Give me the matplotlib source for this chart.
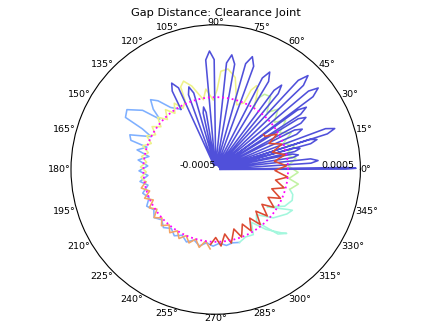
import numpy as np
import matplotlib
matplotlib.use("Agg")
import matplotlib.pyplot as plt

# gap distance, theta in degrees, gap in 1e-4 m
# blue: early impacts (petals from the centre)
blue_theta = [0.5, 0.2, 0.5, 0.9,
              3.5, 3.8, 5.0, 6.4,
              8.5, 8.8, 10.0, 11.4,
              12.5, 12.8, 14.0, 15.4,
              14.5, 15.2, 16.5, 17.8,
              17.0, 17.7, 19.0, 20.4,
              22.5, 23.5, 25.0, 26.6,
              27.5, 28.5, 30.0, 31.6,
              32.0, 33.0, 34.5, 36.0,
              36.0, 36.8, 38.5, 40.2,
              43.0, 43.8, 45.5, 47.2,
              49.5, 50.5, 52.0, 53.6,
              58.0, 59.0, 61.0, 63.0,
              69.0, 69.8, 72.0, 74.2,
              79.0, 79.8, 82.0, 84.2,
              90.0, 90.8, 93.0, 95.2,
              98.0, 99.5, 101.0, 102.5,
              105.0, 106.0, 108.0, 110.0,
              113.0, 114.5, 117.0, 119.0, 120.0]
blue_gap = [-4.7, 4.0, 4.7, 4.0,
            -4.7, 1.6, 2.1, 1.6,
            -4.7, 0.4, 0.8, 0.4,
            -4.7, 0.6, 1.0, 0.6,
            -4.7, 1.8, 2.3, 1.8,
            -4.7, 3.1, 3.7, 3.1,
            -4.7, 1.1, 1.6, 1.1,
            -4.7, 1.7, 2.2, 1.7,
            -4.7, 2.0, 2.6, 2.0,
            -4.7, 3.4, 4.05, 3.4,
            -4.7, 3.4, 4.1, 3.4,
            -4.7, 1.8, 2.4, 1.8,
            -4.7, 2.1, 2.7, 2.1,
            -4.7, 2.6, 3.2, 2.6,
            -4.7, 2.4, 3.0, 2.4,
            -4.7, 2.6, 3.2, 2.6,
            -4.7, -1.0, -0.6, -1.0,
            -4.7, 0.5, 1.0, 0.5,
            -4.7, 1.2, 1.7, 1.2, -0.2]

lblue_theta = [120, 126, 130, 133, 136, 138, 141, 146, 150, 151, 153, 158, 161,
               162, 166, 169, 173, 177, 181, 185, 189, 193, 198, 203, 208, 213,
               218, 223, 228, 233, 238, 243, 248, 253, 258, 263, 268, 273, 278,
               283, 288]
lblue_gap = [-0.2, 0.3, 1.2, 1.6, 1.0, 0.2, 1.5, 2.4, 2.2, 0.8, 0.0, 1.4, 1.2,
             0.0, 0.6, -0.3, 0.4, -0.3, 0.3, -0.3, 0.3, -0.2, 0.3, 0.0, 0.4, 0.1,
             0.4, 0.1, 0.4, 0.1, 0.4, 0.1, 0.4, 0.1, 0.4, 0.1, 0.3, 0.1, 0.3,
             0.2, 0.3]

cyan_theta = [288, 294, 300, 304, 310, 316, 318, 314, 308, 312, 320, 328, 332,
              331, 324, 326, 332, 338, 342, 345]
cyan_gap = [0.3, 0.1, 0.2, -0.6, 0.4, 1.3, 1.6, 1.2, -0.4, -0.8, 0.2, 0.8, 1.0,
            0.7, -0.6, -0.4, 0.4, 0.7, 0.6, 0.3]

green_theta = [345, 350, 353, 358, 363, 368, 372, 377, 381, 386, 390, 395, 399,
               404, 408, 413, 417, 420, 418]
green_gap = [0.3, 0.8, 0.1, 0.7, 0.0, 0.6, 0.0, 0.7, 0.0, 0.8, 0.1, 0.9, 0.2,
             1.0, 0.3, 1.3, 1.2, 0.6, 0.0]

yellow_theta = [58, 62, 64, 66, 67, 72, 78, 83, 87, 89, 92, 97, 100, 106, 110,
                113, 114, 118, 122, 126, 130, 134, 138, 142, 146, 150, 154,
                158, 162, 166, 170, 174, 178, 182, 186, 190]
yellow_gap = [0.0, 1.2, 1.45, 1.0, 0.0, -0.3, 1.5, 2.0, 1.8, 0.5, -0.2, 0.6,
              -0.1, 1.0, 1.5, 1.2, 0.2, -0.2, 0.4, -0.2, 0.4, -0.2, 0.4, -0.2,
              0.3, -0.2, 0.3, -0.2, 0.3, -0.2, 0.2, -0.2, 0.2, -0.2, 0.2, -0.1]

orange_theta = [190, 194, 198, 202, 206, 210, 214, 218, 222, 226, 230, 234, 238,
                242, 246, 250, 254, 258, 262, 266]
orange_gap = [-0.1, 0.3, -0.2, 0.3, -0.2, 0.3, -0.1, 0.4, 0.0, 0.4, 0.0, 0.4,
              0.0, 0.4, 0.0, 0.4, 0.0, 0.5, 0.0, 0.5]

red_theta = [266, 270, 274, 278, 282, 287, 291, 296, 300, 305, 309, 314, 318,
             323, 327, 332, 336, 341, 345, 350, 354, 359, 363, 368, 372, 377,
             381, 386, 390, 394, 396]
red_gap = [0.2, -0.3, 0.3, -0.5, 0.2, -0.7, 0.0, -0.8, -0.1, -0.9, -0.1, -1.0,
           -0.2, -1.0, -0.2, -0.9, -0.1, -0.9, -0.1, -0.8, 0.0, -0.9, -0.1,
           -0.9, -0.1, -0.9, -0.1, -0.9, -0.1, -0.9, -0.9]

theta_ticks = list(range(0, 360, 15))

segments = [
    (lblue_theta, lblue_gap, '#7fb0ff'),
    (cyan_theta, cyan_gap, '#a3f7dd'),
    (green_theta, green_gap, '#c2f2a2'),
    (yellow_theta, yellow_gap, '#eef28a'),
    (orange_theta, orange_gap, '#f3a466'),
    (blue_theta, blue_gap, '#5050da'),
    (red_theta, red_gap, '#dc4a32'),
]

plt.rcParams['font.size'] = 6.8

fig = plt.figure(figsize=(4.34, 3.26), dpi=100)
ax = fig.add_axes([0.1636, 0.0362, 0.6668, 0.8877], projection='polar')

for th, g, c in segments:
    ax.plot(np.deg2rad(th), np.array(g) * 1e-4, color=c, lw=1.15)

# clearance reference circle
circ = np.linspace(0, 2 * np.pi, 400)
ax.plot(circ, np.zeros_like(circ), color='magenta', ls=':', lw=1.3, zorder=5)

rmax = 0.0005
ax.set_ylim(-rmax, rmax)
ax.set_yticks([])
ax.set_xticks(np.deg2rad(theta_ticks))
ax.set_xticklabels([])
ax.grid(False)
ax.tick_params(axis='x', direction='in', length=1.5)

# angle labels, anchored on the outer circle like the old polar style
for a in theta_ticks:
    c, s = np.cos(np.deg2rad(a)), np.sin(np.deg2rad(a))
    ha = 'left' if c > 0.01 else ('right' if c < -0.01 else 'center')
    va = 'baseline' if s > 0.01 else ('top' if s < -0.01 else 'center')
    ax.text(np.deg2rad(a), rmax, f"{a}\N{DEGREE SIGN}", ha=ha, va=va,
            clip_on=False)

# radial labels drawn as text along the 0 degree direction
ax.text(0, -rmax, '-0.0005', ha='right', va='bottom', zorder=6)
ax.text(0, 0.00046, '0.0005', ha='right', va='bottom', zorder=6)

ax.set_title("Gap Distance: Clearance Joint", y=1.031, pad=0)

fig.savefig("out.png", dpi=100)
